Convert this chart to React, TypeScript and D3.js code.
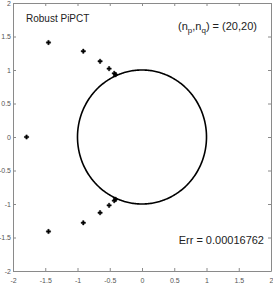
import { useEffect, useRef } from 'react';
import * as d3 from 'd3';

const tickValues = [-2, -1.5, -1, -0.5, 0, 0.5, 1, 1.5, 2];
const tickLabels = ['-2', '-1.5', '-1', '-0.5', '0', '0.5', '1', '1.5', '2'];

// poles (upper half, mirrored below) and the real one
const poleX = [-1.45, -0.91, -0.65, -0.51, -0.43, -0.41];
const poleY = [1.41, 1.28, 1.13, 1.02, 0.95, 0.93];
const realPole = [-1.79, 0];

const title = 'Robust PiPCT';
const errText = 'Err = 0.00016762';

export default function App() {
	const ref = useRef<SVGSVGElement | null>(null);

	useEffect(() => {
		if (!ref.current) return;
		const svg = d3.select(ref.current);
		svg.selectAll('*').remove();

		const W = 273;
		const H = 284;
		const left = 13, right = 271, top = 3, bottom = 271;

		const x = d3.scaleLinear().domain([-2, 2]).range([left, right]);
		const y = d3.scaleLinear().domain([-2, 2]).range([bottom, top]);

		svg.append('rect').attr('width', W).attr('height', H).attr('fill', '#fff');

		const font = '"Liberation Sans Narrow", "Liberation Sans", Arial, sans-serif';
		const axisColor = '#8a8a8a';

		const fmt = (d: d3.NumberValue) => tickLabels[tickValues.indexOf(+d)];

		const xb = d3.axisBottom(x).tickValues(tickValues).tickSizeInner(-3).tickSizeOuter(0).tickPadding(7).tickFormat(fmt);
		const yl = d3.axisLeft(y).tickValues(tickValues).tickSizeInner(-3).tickSizeOuter(0).tickPadding(2).tickFormat(fmt);
		const xt = d3.axisTop(x).tickValues(tickValues).tickSizeInner(-3).tickSizeOuter(0).tickFormat(() => '');
		const yr = d3.axisRight(y).tickValues(tickValues).tickSizeInner(-3).tickSizeOuter(0).tickFormat(() => '');

		const style = (g: d3.Selection<SVGGElement, unknown, null, undefined>) => {
			g.selectAll('path').attr('stroke', axisColor);
			g.selectAll('line').attr('stroke', axisColor);
			g.selectAll('text').attr('fill', '#555').style('font-family', font).style('font-size', '7px');
		};

		svg.append('g').attr('transform', `translate(0,${bottom})`).call(xb).call(style);
		svg.append('g').attr('transform', `translate(${left},0)`).call(yl).call(style);
		svg.append('g').attr('transform', `translate(0,${top})`).call(xt).call(style);
		svg.append('g').attr('transform', `translate(${right},0)`).call(yr).call(style);

		// unit circle
		const circle = d3.range(0, 361).map(a => [Math.cos((a * Math.PI) / 180), Math.sin((a * Math.PI) / 180)]);
		const line = d3.line<number[]>().x(d => x(d[0])).y(d => y(d[1]));
		svg.append('path').datum(circle).attr('d', line).attr('fill', 'none').attr('stroke', '#000').attr('stroke-width', 1.6);

		const pts: number[][] = [realPole];
		poleX.forEach((px, i) => {
			pts.push([px, poleY[i]]);
			pts.push([px, -poleY[i]]);
		});
		const sym = d3.symbol().type(d3.symbolCross).size(10);
		svg
			.selectAll('path.pole')
			.data(pts)
			.enter()
			.append('path')
			.attr('class', 'pole')
			.attr('d', sym)
			.attr('transform', d => `translate(${x(d[0])},${y(d[1])})`)
			.attr('fill', '#000')
			.attr('stroke', '#000')
			.attr('stroke-width', 0.5);

		svg.append('text').attr('x', 26).attr('y', 22).text(title)
			.style('font-family', font).style('font-size', '10px').attr('fill', '#222');

		const t = svg.append('text').attr('x', 178).attr('y', 30)
			.style('font-family', font).style('font-size', '11px').attr('fill', '#222');
		t.append('tspan').text('(n');
		t.append('tspan').text('p').attr('dy', 3).style('font-size', '8px');
		t.append('tspan').text(',n').attr('dy', -3);
		t.append('tspan').text('q').attr('dy', 3).style('font-size', '8px');
		t.append('tspan').text(') = (20,20)').attr('dy', -3);

		svg.append('text').attr('x', 264).attr('y', 244).attr('text-anchor', 'end').text(errText)
			.style('font-family', font).style('font-size', '11px').attr('fill', '#222');
	}, []);

	return (
		<svg
			ref={ref}
			width={273}
			height={284}
			style={{ position: 'absolute', left: 0, top: 0, display: 'block' }}
		/>
	);
}
